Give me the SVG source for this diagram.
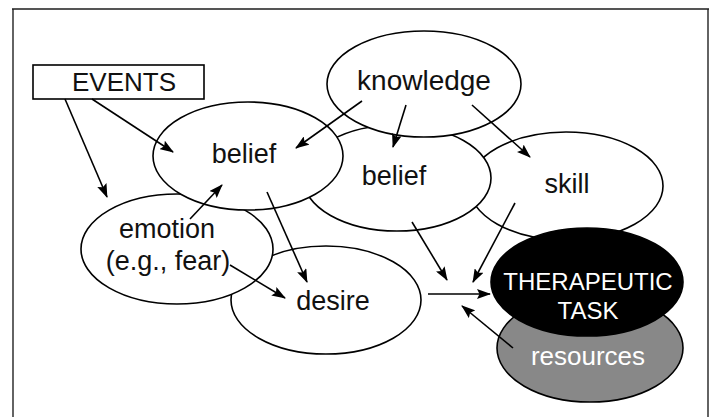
<svg xmlns="http://www.w3.org/2000/svg" width="711" height="417" viewBox="0 0 711 417">
<defs>
<marker id="ah" markerWidth="14" markerHeight="10" refX="13" refY="5" orient="auto" markerUnits="userSpaceOnUse">
<path d="M0,0 L14,5 L0,10 L2.5,5 Z" fill="#000"/>
</marker>
<style>
.el{fill:#fff;stroke:#000;stroke-width:1.6}
.t{font-family:"Liberation Sans",Arial,sans-serif;font-size:27px;fill:#111;text-anchor:middle}
.c{stroke:#000;stroke-width:1.6;fill:none;marker-end:url(#ah)}
</style>
</defs>
<rect width="711" height="417" fill="#fff"/>
<g id="frame">
<line x1="12" y1="9" x2="709" y2="9" stroke="#555" stroke-width="2.2"/>
<line x1="13" y1="9" x2="13" y2="417" stroke="#222" stroke-width="1.4"/>
<line x1="708" y1="9" x2="708" y2="417" stroke="#222" stroke-width="1.4"/>
</g>
<g id="events">
<rect x="33" y="65" width="171" height="34" fill="#fff" stroke="#000" stroke-width="1.6"/>
<text class="t" x="124" y="91" style="font-size:26px">EVENTS</text>
</g>
<g id="resources">
<ellipse class="el" cx="590" cy="348" rx="93" ry="54" style="fill:#888"/>
<text class="t" x="588" y="365" style="fill:#fff;font-size:26px">resources</text>
</g>
<g id="skill">
<ellipse class="el" cx="566" cy="186" rx="97" ry="54"/>
<text class="t" x="567" y="193">skill</text>
</g>
<g id="belief2">
<ellipse class="el" cx="397" cy="178" rx="94" ry="53"/>
<text class="t" x="394" y="185">belief</text>
</g>
<g id="knowledge">
<ellipse class="el" cx="424" cy="84" rx="97" ry="53"/>
<text class="t" x="424" y="90" style="font-size:28px">knowledge</text>
</g>
<g id="desire">
<ellipse class="el" cx="326" cy="300" rx="95" ry="54"/>
<text class="t" x="333" y="310">desire</text>
</g>
<g id="emotion">
<ellipse class="el" cx="177" cy="249" rx="96" ry="55"/>
<text class="t" x="167" y="238">emotion</text>
<text class="t" x="168" y="270">(e.g., fear)</text>
</g>
<g id="belief1">
<ellipse class="el" cx="248" cy="156" rx="95" ry="54"/>
<text class="t" x="244" y="163">belief</text>
</g>
<g id="task">
<ellipse cx="587" cy="282" rx="96" ry="54" fill="#000" stroke="#000" stroke-width="1.6"/>
<text class="t" x="588" y="290" style="fill:#fff;font-size:24px">THERAPEUTIC</text>
<text class="t" x="588" y="319" style="fill:#fff;font-size:24px">TASK</text>
</g>
<g id="connectors">
<line class="c" x1="92" y1="99" x2="173" y2="152"/>
<line class="c" x1="65" y1="99" x2="107" y2="197"/>
<line class="c" x1="362" y1="101" x2="296" y2="148"/>
<line class="c" x1="406" y1="105" x2="393" y2="147"/>
<line class="c" x1="472" y1="105" x2="530" y2="157"/>
<line class="c" x1="190" y1="219" x2="222" y2="185"/>
<line class="c" x1="267" y1="192" x2="307" y2="282"/>
<line class="c" x1="230" y1="265" x2="285" y2="298"/>
<line class="c" x1="412" y1="222" x2="447" y2="280"/>
<line class="c" x1="515" y1="203" x2="473" y2="282"/>
<line class="c" x1="428" y1="294" x2="490" y2="294"/>
<line class="c" x1="513" y1="348" x2="462" y2="306"/>
</g>
</svg>
